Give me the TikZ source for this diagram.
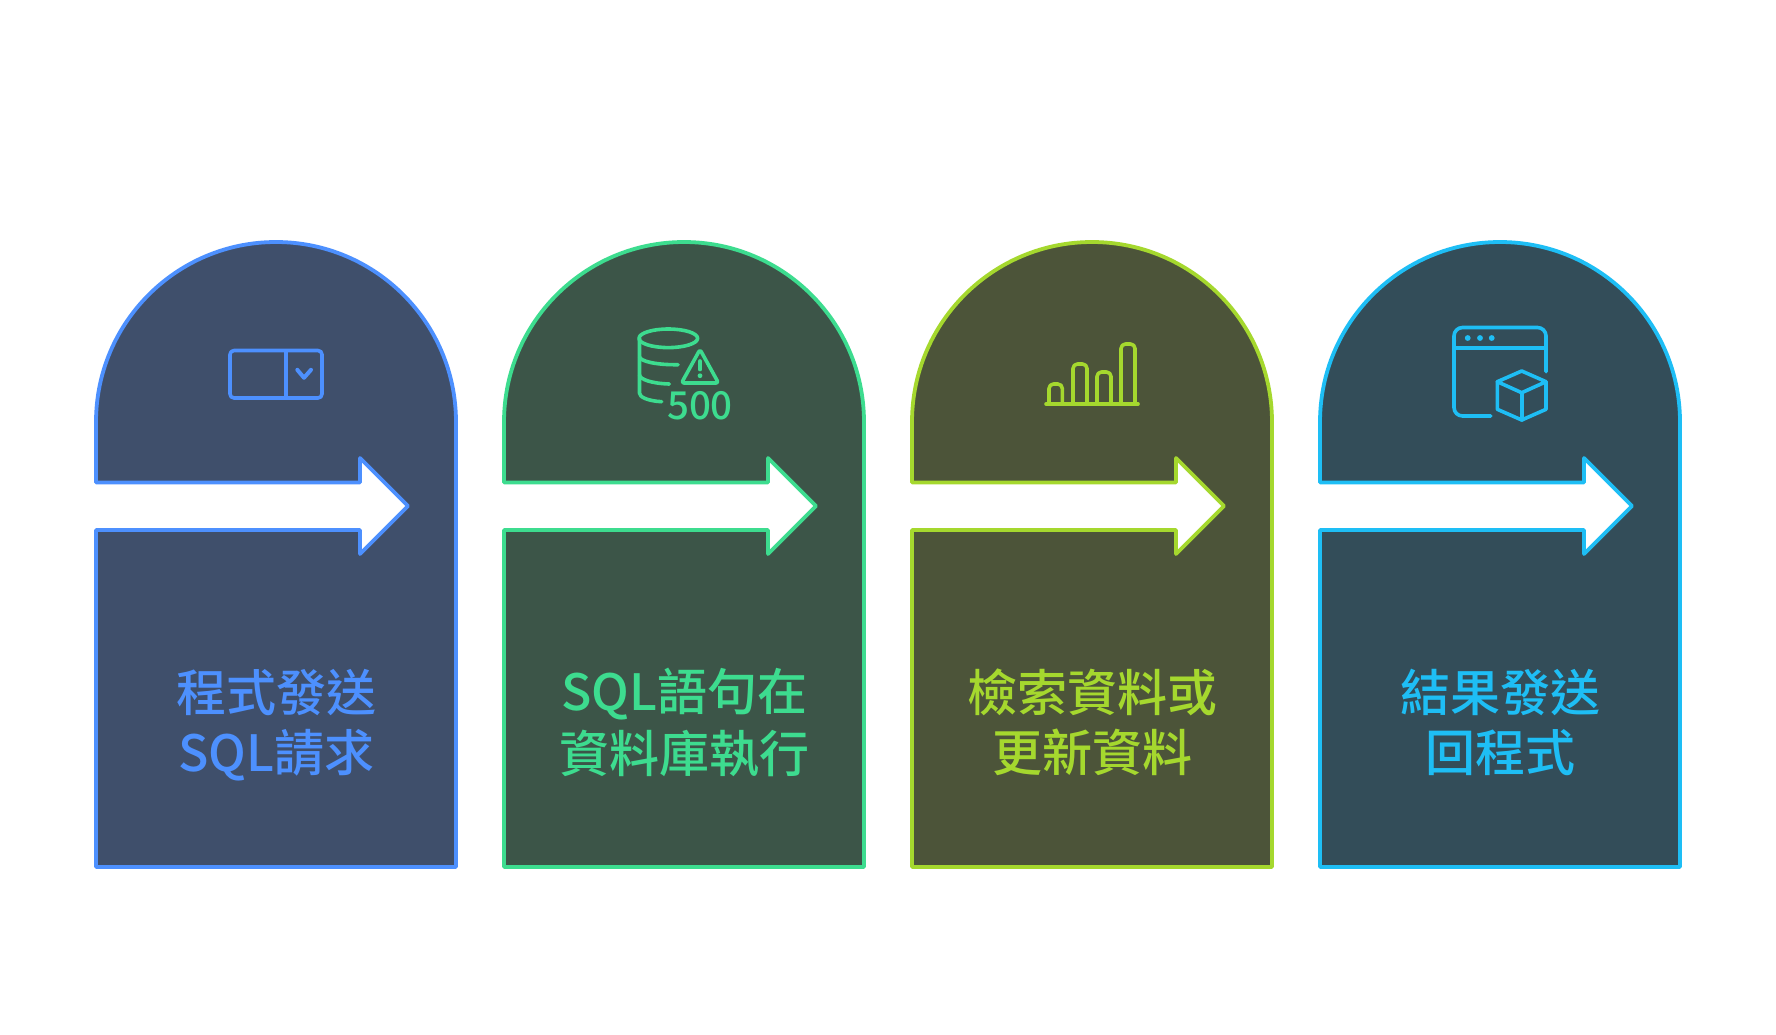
\documentclass[tikz,border=0pt]{standalone}
\usepackage{fontspec}
\newfontfamily\cjktc[UprightFont={* Medium},BoldFont={* Bold}]{Noto Sans CJK TC}
\definecolor{cBlue}{HTML}{4D90FE}\definecolor{fBlue}{HTML}{3F4F6B}
\definecolor{cGreen}{HTML}{3DDC8F}\definecolor{fGreen}{HTML}{3C5548}
\definecolor{cLime}{HTML}{A5D82E}\definecolor{fLime}{HTML}{4C5439}
\definecolor{cCyan}{HTML}{1EBEF5}\definecolor{fCyan}{HTML}{334D59}
\tikzset{
  cardshape/.style={line width=3.8pt,line join=round},
  iconline/.style={line width=3.6pt,line join=round,line cap=round},
  caption/.style={inner sep=0pt,align=center,font=\cjktc\fontsize{50}{60}\selectfont},
  icontext/.style={inner sep=0pt,font=\cjktc\fontsize{38.5}{38.5}\selectfont}
}
\newcommand{\cardpath}[1]{%
  \begin{scope}[xshift=#1pt]
  \path[cardshape,preaction={fill=\fillc},draw=\linec]
    (96,482.4) -- (360,482.4) -- (360,458) -- (408,506) -- (360,554) -- (360,530)
    -- (96,530) -- (96,867) -- (456,867) -- (456,422)
    .. controls (456,322.6) and (375.4,242) .. (276,242)
    .. controls (176.6,242) and (96,322.6) .. (96,422) -- cycle;
  \end{scope}}
\begin{document}
\begin{tikzpicture}[x=1pt,y=-1pt]
\useasboundingbox (0,0) rectangle (1776,1034);
\fill[white] (0,0) rectangle (1776,1034);

\def\fillc{fBlue}\def\linec{cBlue}\cardpath{0}
\def\fillc{fGreen}\def\linec{cGreen}\cardpath{408}
\def\fillc{fLime}\def\linec{cLime}\cardpath{816}
\def\fillc{fCyan}\def\linec{cCyan}\cardpath{1224}

% icon 1: dropdown
\draw[iconline,cBlue,rounded corners=4pt] (230,350.5) rectangle (322,398);
\draw[iconline,cBlue,line cap=butt] (286,350.5) -- (286,398);
\draw[iconline,cBlue,line width=4pt] (297.3,369.8) -- (304,377.8) -- (311,369.8);

% icon 2: database warning
\begin{scope}[shift={(610,310)},iconline,cGreen]
  \draw (58.3,28.3) ellipse [x radius=29.3,y radius=9.3];
  \draw (29.5,28.3) -- (29.5,83.3) .. controls (29.5,87) and (38,91) .. (51.7,91.7);
  \draw (29.5,46.7) .. controls (30,51) and (45,55) .. (68,54.7);
  \draw (29.5,65) .. controls (30,69.5) and (42,73.5) .. (59.3,74);
  \draw[rounded corners=2.5pt] (90,39.5) -- (108.5,73) -- (71.5,73) -- cycle;
  \draw (90,51) -- (90,59.5);
  \fill (90,65.7) circle (2.4);
\end{scope}
\node[icontext,cGreen] (num500) at (700,406) {500};

% icon 3: bar chart
\begin{scope}[iconline,cLime]
  \draw (1046,404) -- (1138,404);
  \draw[rounded corners=4.5pt] (1049,404) -- (1049,384) -- (1062.3,384) -- (1062.3,404);
  \draw[rounded corners=4.5pt] (1073,404) -- (1073,364) -- (1087,364) -- (1087,404);
  \draw[rounded corners=4.5pt] (1097,404) -- (1097,372) -- (1111,372) -- (1111,404);
  \draw[rounded corners=4.5pt] (1121,404) -- (1121,344) -- (1135,344) -- (1135,404);
\end{scope}

% icon 4: window with cube
\begin{scope}[iconline,cCyan]
  \draw[rounded corners=8.5pt] (1546,371.7) -- (1546,327.5) -- (1454,327.5) -- (1454,416) -- (1490.7,416);
  \draw[line cap=butt] (1454,347.7) -- (1546,347.7);
  \fill (1467.7,338) circle (2.9);
  \fill (1480,338) circle (2.9);
  \fill (1491.7,338) circle (2.9);
  \draw (1521.7,371) -- (1497.3,381.7) -- (1521.7,392.7) -- (1546,381.7) -- cycle;
  \draw (1497.3,381.7) -- (1497.3,409.3) -- (1521.7,420) -- (1546,409.3) -- (1546,381.7);
  \draw (1521.7,392.7) -- (1521.7,420);
\end{scope}

\node[caption,cBlue]  (t1) at (276,725) {程式發送\\SQL請求};
\node[caption,cGreen] (t2) at (684,723) {SQL語句在\\[2pt]資料庫執行};
\node[caption,cLime]  (t3) at (1092,722) {檢索資料或\\更新資料};
\node[caption,cCyan]  (t4) at (1500,722) {結果發送\\回程式};
\end{tikzpicture}
\end{document}
